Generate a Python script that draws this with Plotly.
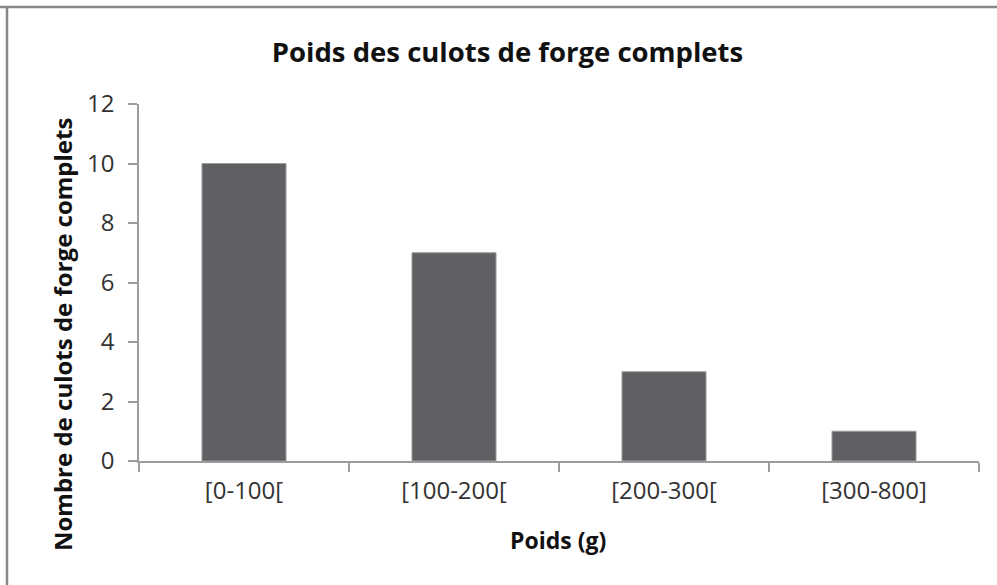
import plotly.graph_objects as go

categories = ["[0-100[", "[100-200[", "[200-300[", "[300-800]"]
counts = [10, 7, 3, 1]
y_ticks = [0, 2, 4, 6, 8, 10, 12]

W, H = 997, 585
L, R, T, B = 139, 18, 104, 124
pw, ph = W - L - R, H - T - B

def px(x):
    return (x - L) / pw

def py(y):
    return (H - B - y) / ph

fig = go.Figure(go.Bar(
    x=categories, y=counts, width=0.4,
    marker=dict(color="#5f6064", line=dict(color="#9a9a9a", width=1)),
))

font = "Open Sans"
fig.update_layout(
    width=W, height=H,
    margin=dict(l=L, r=R, t=T, b=B),
    paper_bgcolor="white", plot_bgcolor="white",
    showlegend=False,
    font=dict(family=font, color="#333333"),
    title=dict(text="<b>Poids des culots de forge complets</b>",
               x=507.5 / W, xref="container", xanchor="center",
               y=1 - 52 / H, yref="container", yanchor="middle",
               font=dict(family=font, size=27.5, color="#111111")),
    xaxis=dict(showline=True, linecolor="#9c9c9c", linewidth=1.5,
               ticks="outside", ticklen=9, tickwidth=1.5, tickcolor="#9c9c9c",
               tickson="boundaries", showgrid=False,
               tickfont=dict(size=24, color="#333333"), ticklabelstandoff=7),
    yaxis=dict(range=[0, 12], tickvals=y_ticks, showline=True, linecolor="#9c9c9c",
               linewidth=1.5, ticks="outside", ticklen=9, tickwidth=1.5,
               tickcolor="#9c9c9c", showgrid=False, zeroline=False,
               tickfont=dict(size=24, color="#333333"), ticklabelstandoff=9),
    annotations=[
        dict(text="<b>Nombre de culots de forge complets</b>", textangle=-90,
             xref="paper", yref="paper", x=px(62), y=py(335),
             xanchor="center", yanchor="middle", showarrow=False,
             font=dict(family=font, size=24, color="#111111")),
        dict(text="<b>Poids (g)</b>",
             xref="paper", yref="paper", x=px(558), y=py(540),
             xanchor="center", yanchor="middle", showarrow=False,
             font=dict(family=font, size=23, color="#111111")),
    ],
    shapes=[
        dict(type="line", xref="paper", yref="paper",
             x0=px(0), x1=px(W + 5), y0=py(7), y1=py(7),
             line=dict(color="#888888", width=2.5)),
        dict(type="line", xref="paper", yref="paper",
             x0=px(7), x1=px(7), y0=py(6), y1=py(H + 5),
             line=dict(color="#888888", width=2.5)),
    ],
)

fig.write_html("out.html", config={"displayModeBar": False},
               post_script="document.body.style.margin='0';document.body.style.overflow='hidden';")
